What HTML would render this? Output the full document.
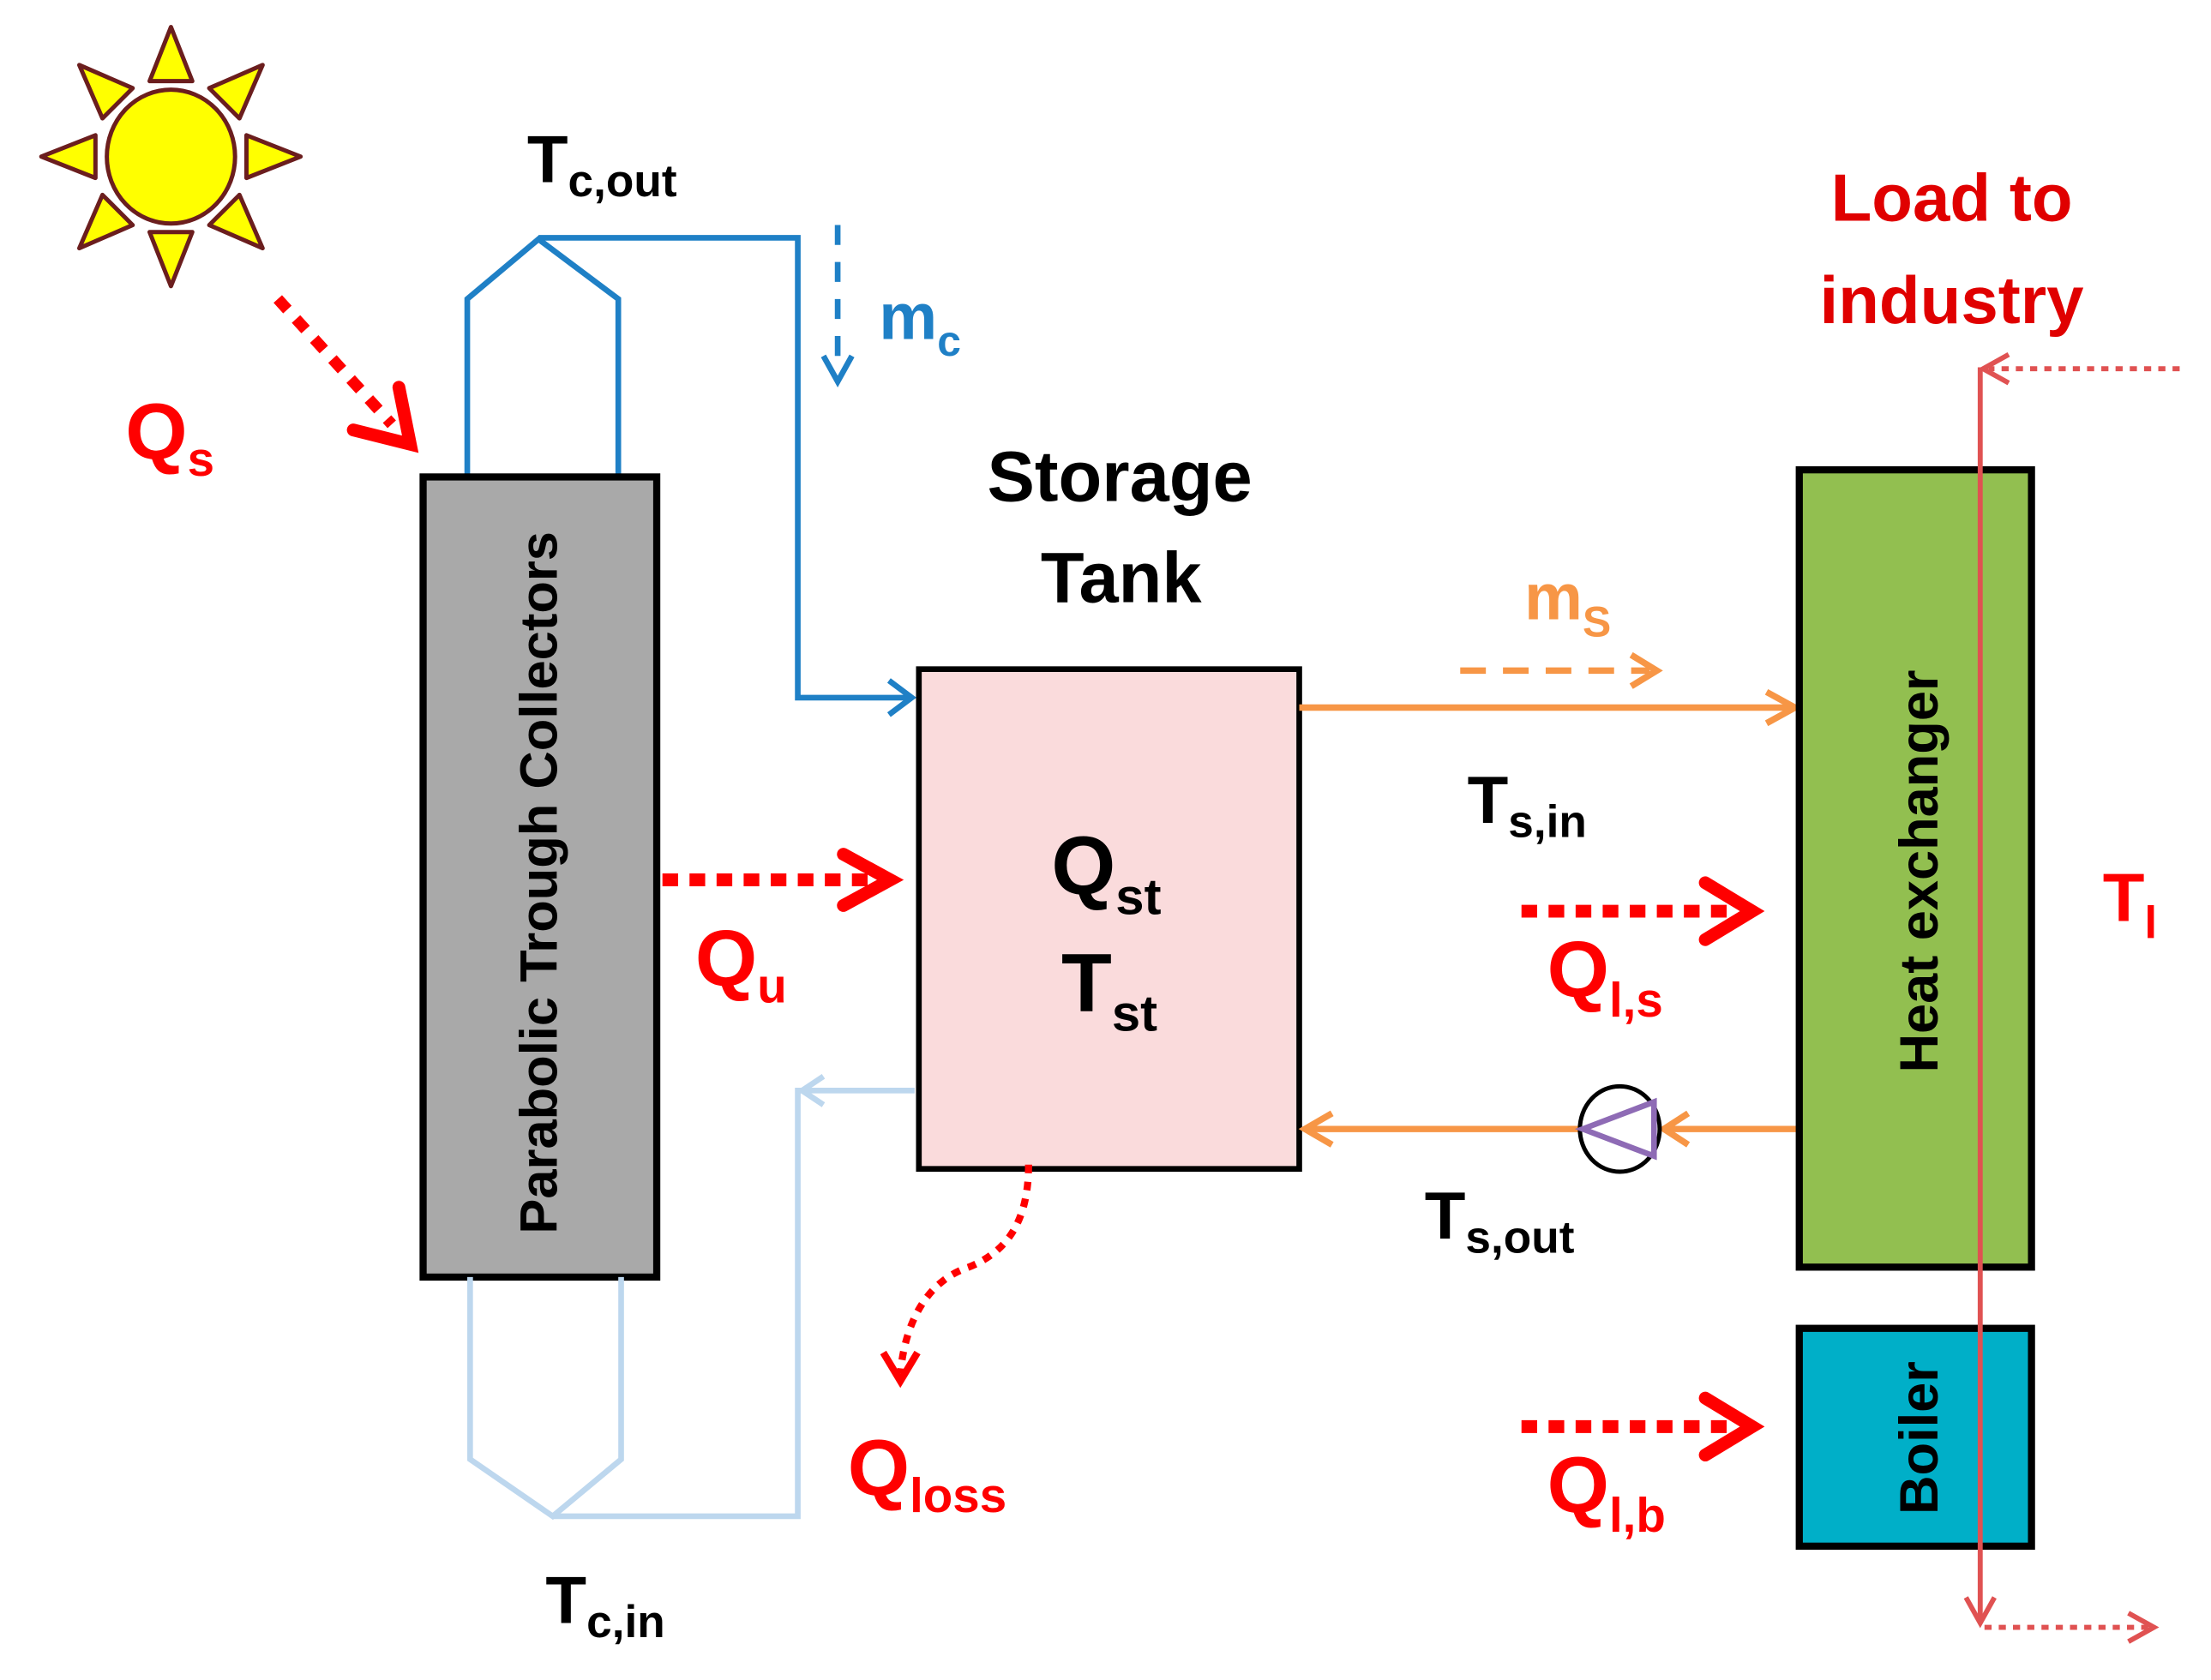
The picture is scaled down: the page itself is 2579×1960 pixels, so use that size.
<!DOCTYPE html>
<html><head><meta charset="utf-8"><style>
html,body{margin:0;padding:0;background:#fff;}
svg{display:block;}
text{font-family:"Liberation Sans",sans-serif;font-weight:bold;}
</style></head><body>
<svg width="2579" height="1960" viewBox="0 0 1552 1180" preserveAspectRatio="none" xmlns="http://www.w3.org/2000/svg">
<!-- Sun -->
<g stroke="#6B1E1E" stroke-width="3" fill="#FFFF00" stroke-linejoin="round">
<g id="ray"><polygon points="120,19 105,57 135,57"/></g>
<use href="#ray" transform="rotate(45 120 110)"/>
<use href="#ray" transform="rotate(90 120 110)"/>
<use href="#ray" transform="rotate(135 120 110)"/>
<use href="#ray" transform="rotate(180 120 110)"/>
<use href="#ray" transform="rotate(225 120 110)"/>
<use href="#ray" transform="rotate(270 120 110)"/>
<use href="#ray" transform="rotate(315 120 110)"/>
<ellipse cx="120" cy="110" rx="45" ry="47"/>
</g>
<!-- Qs arrow -->
<line x1="195" y1="210" x2="275" y2="298" stroke="#FF0000" stroke-width="8" stroke-dasharray="10 9"/>
<path d="M248,302 L288,312 L280,272" fill="none" stroke="#FF0000" stroke-width="9" stroke-linecap="round" stroke-linejoin="miter"/>
<text x="88" y="322" font-size="56" fill="#FF0000">Q<tspan font-size="34" dy="12">s</tspan></text>

<!-- blue top pipe -->
<polyline points="328,335 328,210 378,168 434,210 434,335" fill="none" stroke="#1F80C6" stroke-width="4"/>
<polyline points="378,167 560,167 560,490 638,490" fill="none" stroke="#1F80C6" stroke-width="4"/>
<path d="M624,478 L640,490 L624,502" fill="none" stroke="#1F80C6" stroke-width="4"/>
<line x1="588" y1="158" x2="588" y2="262" stroke="#1F80C6" stroke-width="4" stroke-dasharray="14 12"/>
<path d="M578,250 L588,268 L598,250" fill="none" stroke="#1F80C6" stroke-width="4"/>
<text x="617" y="238" font-size="46" fill="#1F80C6">m<tspan font-size="30" dy="12">c</tspan></text>
<text x="370" y="128" font-size="47" fill="#000">T<tspan font-size="32" dy="10">c,out</tspan></text>

<!-- collector -->
<rect x="297" y="335" width="164" height="562" fill="#A9A9A9" stroke="#000" stroke-width="5"/>
<text transform="translate(391,620) rotate(-90)" text-anchor="middle" font-size="37" fill="#000">Parabolic Trough Collectors</text>

<!-- light blue bottom pipe -->
<polyline points="330,897 330,1025 388,1065 436,1025 436,897" fill="none" stroke="#BDD7EE" stroke-width="4"/>
<polyline points="388,1065 560,1065 560,766 642,766" fill="none" stroke="#BDD7EE" stroke-width="4"/>
<path d="M578,756 L563,766 L578,776" fill="none" stroke="#BDD7EE" stroke-width="4"/>
<text x="383" y="1140" font-size="47" fill="#000">T<tspan font-size="32" dy="10">c,in</tspan></text>

<!-- storage tank -->
<text x="786" y="352" text-anchor="middle" font-size="50" fill="#000">Storage</text>
<text x="787" y="423" text-anchor="middle" font-size="50" fill="#000">Tank</text>
<rect x="645" y="470" width="267" height="351" fill="#FADBDC" stroke="#000" stroke-width="4"/>
<text x="738" y="628" font-size="58" fill="#000">Q<tspan font-size="36" dy="14">st</tspan></text>
<text x="745" y="710" font-size="58" fill="#000">T<tspan font-size="36" dy="14">st</tspan></text>

<!-- Qu -->
<line x1="465" y1="618" x2="615" y2="618" stroke="#FF0000" stroke-width="9" stroke-dasharray="11 8"/>
<path d="M592,600 L625,618 L592,636" fill="none" stroke="#FF0000" stroke-width="9" stroke-linecap="round"/>
<text x="488" y="692" font-size="56" fill="#FF0000">Q<tspan font-size="34" dy="12">u</tspan></text>

<!-- Qloss -->
<path d="M722,818 C722,860 705,880 680,890 C650,900 635,930 632,965" fill="none" stroke="#FF0000" stroke-width="5" stroke-dasharray="6 6"/>
<path d="M620,950 L632,970 L644,950" fill="none" stroke="#FF0000" stroke-width="5"/>
<text x="595" y="1050" font-size="56" fill="#FF0000">Q<tspan font-size="34" dy="12">loss</tspan></text>

<!-- orange supply -->
<line x1="912" y1="497" x2="1258" y2="497" stroke="#F79646" stroke-width="4.5"/>
<path d="M1240,486 L1260,497 L1240,508" fill="none" stroke="#F79646" stroke-width="4.5"/>
<line x1="1025" y1="471" x2="1158" y2="471" stroke="#F79646" stroke-width="4.5" stroke-dasharray="18 12"/>
<path d="M1145,460 L1163,471 L1145,482" fill="none" stroke="#F79646" stroke-width="4.5"/>
<text x="1070" y="435" font-size="46" fill="#F79646">m<tspan font-size="30" dy="12">S</tspan></text>
<text x="1030" y="578" font-size="47" fill="#000">T<tspan font-size="32" dy="10">s,in</tspan></text>

<!-- Ql,s -->
<line x1="1068" y1="640" x2="1215" y2="640" stroke="#FF0000" stroke-width="9" stroke-dasharray="11 8"/>
<path d="M1197,620 L1230,640 L1197,660" fill="none" stroke="#FF0000" stroke-width="9" stroke-linecap="round"/>
<text x="1086" y="700" font-size="56" fill="#FF0000">Q<tspan font-size="34" dy="14">l,s</tspan></text>

<!-- orange return with pump -->
<line x1="1262" y1="793" x2="1168" y2="793" stroke="#F79646" stroke-width="4.5"/>
<path d="M1185,782 L1168,793 L1185,804" fill="none" stroke="#F79646" stroke-width="4.5"/>
<line x1="1108" y1="793" x2="916" y2="793" stroke="#F79646" stroke-width="4.5"/>
<path d="M935,782 L916,793 L935,804" fill="none" stroke="#F79646" stroke-width="4.5"/>
<ellipse cx="1137" cy="793" rx="28" ry="30" fill="#fff" stroke="#000" stroke-width="3"/>
<polygon points="1111,793 1161,774 1161,812" fill="none" stroke="#8E6BB5" stroke-width="4"/>
<text x="1000" y="870" font-size="47" fill="#000">T<tspan font-size="32" dy="10">s,out</tspan></text>

<!-- HX & boiler -->
<rect x="1263" y="330" width="163" height="560" fill="#92BF50" stroke="#000" stroke-width="5"/>
<text transform="translate(1360,612) rotate(-90)" text-anchor="middle" font-size="38" fill="#000">Heat exchanger</text>
<rect x="1263" y="933" width="163" height="153" fill="#00AFC8" stroke="#000" stroke-width="5"/>
<text transform="translate(1360,1010) rotate(-90)" text-anchor="middle" font-size="38" fill="#000">Boiler</text>

<!-- load line -->
<line x1="1390" y1="258" x2="1390" y2="1140" stroke="#E05252" stroke-width="3.5"/>
<line x1="1530" y1="259" x2="1396" y2="259" stroke="#E05252" stroke-width="3.5" stroke-dasharray="5 5"/>
<path d="M1410,249 L1392,259 L1410,269" fill="none" stroke="#E05252" stroke-width="3.5"/>
<path d="M1380,1122 L1390,1140 L1400,1122" fill="none" stroke="#E05252" stroke-width="3.5"/>
<line x1="1393" y1="1143" x2="1510" y2="1143" stroke="#E05252" stroke-width="3.5" stroke-dasharray="5 5"/>
<path d="M1494,1133 L1512,1143 L1494,1153" fill="none" stroke="#E05252" stroke-width="3.5"/>
<text x="1370" y="155" text-anchor="middle" font-size="47" fill="#E00000">Load to</text>
<text x="1370" y="227" text-anchor="middle" font-size="47" fill="#E00000">industry</text>
<text x="1476" y="647" font-size="48" fill="#FF0000">T<tspan font-size="32" dy="12">l</tspan></text>

<!-- Ql,b -->
<line x1="1068" y1="1002" x2="1215" y2="1002" stroke="#FF0000" stroke-width="9" stroke-dasharray="11 8"/>
<path d="M1197,982 L1230,1002 L1197,1022" fill="none" stroke="#FF0000" stroke-width="9" stroke-linecap="round"/>
<text x="1086" y="1062" font-size="56" fill="#FF0000">Q<tspan font-size="34" dy="14">l,b</tspan></text>
</svg>
</body></html>
